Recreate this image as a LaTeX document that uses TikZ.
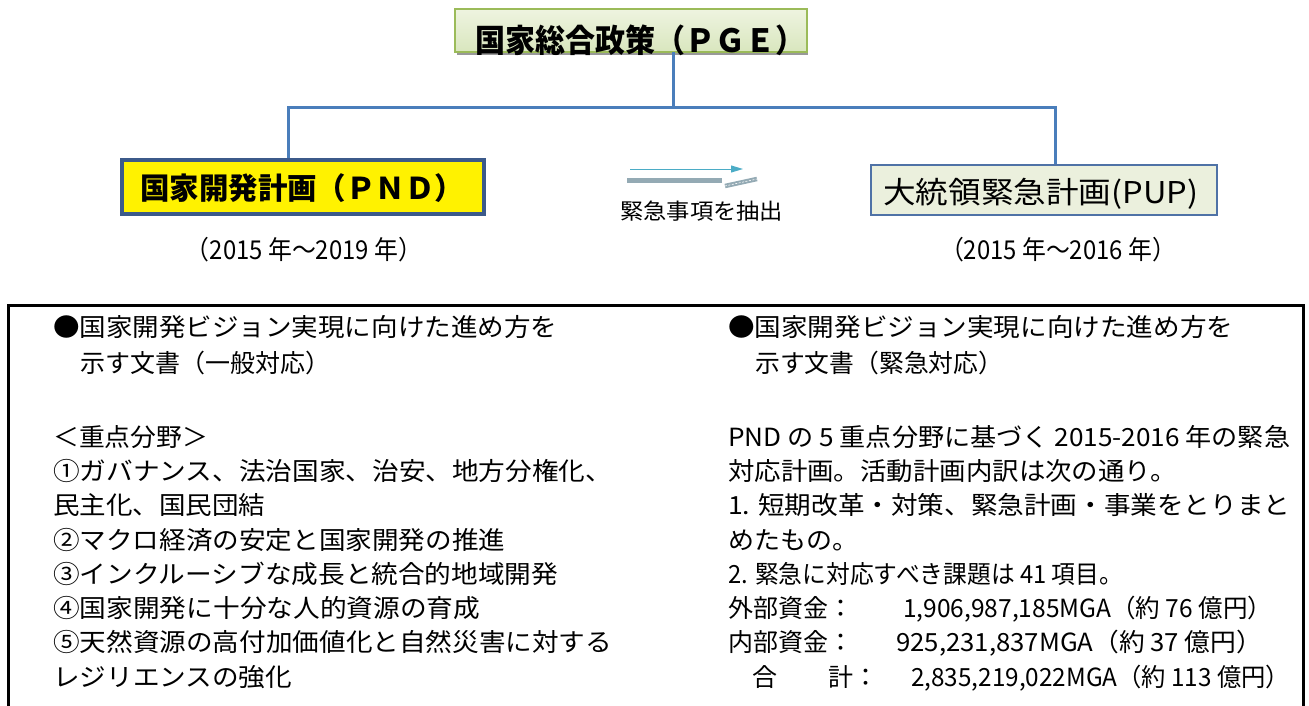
\documentclass[tikz,border=0pt]{standalone}
\usepackage{graphicx}
\usepackage{fontspec}
\setmainfont{Noto Sans CJK JP}
\usetikzlibrary{arrows.meta}
\definecolor{connblue}{HTML}{4A7EBB}
\definecolor{pgeborder}{HTML}{9BBB59}
\definecolor{pgetop}{HTML}{EEF4E0}
\definecolor{pgebot}{HTML}{D9E6BE}
\definecolor{pndborder}{HTML}{3C5A8A}
\definecolor{pupfill}{HTML}{EBF0DD}
\definecolor{pupborder}{HTML}{4F72A6}
\definecolor{arrline}{HTML}{4BACC6}
\definecolor{arrbar}{HTML}{94AAB4}
\newcommand\myfit[2]{\resizebox{#1}{\height}{#2}}
\tikzset{
  connector/.style={draw=connblue, line width=3pt},
  pgebox/.style={draw=pgeborder, line width=1.5pt, top color=pgetop, bottom color=pgebot, minimum width=352pt, minimum height=43pt, inner sep=0pt},
  pndbox/.style={draw=pndborder, line width=4pt, fill=yellow, minimum width=362pt, minimum height=54pt, inner sep=0pt},
  pupbox/.style={draw=pupborder, line width=1.5pt, fill=pupfill, minimum width=346pt, minimum height=50pt, inner sep=0pt},
  txt/.style={anchor=base west, inner sep=0pt, font=\fontsize{25}{30}\selectfont},
  datetxt/.style={anchor=base, inner sep=0pt, font=\fontsize{26}{30}\selectfont},
}
\begin{document}
\begin{tikzpicture}[x=1pt,y=-1pt]
\useasboundingbox (0,0) rectangle (1309,706);
% PGE
\fill[black!40] (457,13) rectangle (808,55);
\node[pgebox] (pge) at (631,30.5) {};
\node[anchor=base west, inner sep=0pt, font=\fontsize{32}{38}\selectfont\bfseries] (pget) at (475,53) {\myfit{330pt}{国家総合政策（ＰＧＥ）}};
% PND
\node[pndbox] (pnd) at (303,187) {};
\node[anchor=base west, inner sep=0pt, font=\fontsize{30}{36}\selectfont\bfseries] (pndt) at (140,199) {\myfit{324pt}{国家開発計画（ＰＮＤ）}};
% PUP
\node[pupbox] (pup) at (1044,190) {};
\node[anchor=base west, inner sep=0pt, font=\fontsize{30}{36}\selectfont] (pupt) at (883,203) {\myfit{315pt}{大統領緊急計画(PUP)}};
% connectors
\coordinate (top) at (673,52);
\coordinate (jc) at (673,108);
\coordinate (jl) at (288,108);
\coordinate (jr) at (1055,108);
\draw[connector] (top) -- (jc);
\draw[connector] (pnd.north -| jl) -- (jl) -- (jr) -- (pup.north -| jr);
% dates
\node[datetxt] (d1) at (304,259) {\myfit{236pt}{（2015 年～2019 年）}};
\node[datetxt] (d2) at (1058,259) {\myfit{236pt}{（2015 年～2016 年）}};
% arrow
\coordinate (a1) at (630,169);
\coordinate (a2) at (743,169);
\draw[arrline, line width=1pt, -{Triangle[length=12pt,width=7pt]}] (a1) -- (a2);
\coordinate (b1) at (627,180);
\coordinate (b2) at (722,180);
\draw[arrbar, line width=5pt] (b1) -- (b2);
\coordinate (c1) at (725,186);
\coordinate (c2) at (757,179);
\draw[arrbar, line width=4.5pt] (c1) -- (c2);
\draw[white, line width=0.6pt, dash pattern=on 2pt off 1.5pt] (c1) -- (c2);
\node[anchor=base west, inner sep=0pt, font=\fontsize{22}{26}\selectfont] (ext) at (620,219) {\myfit{163pt}{緊急事項を抽出}};
% big box
\draw[line width=3pt] (8,716) -- (8,305) -- (1303,305) -- (1303,716);
% left text
\node[txt] (l1) at (53,336.5) {\myfit{504pt}{●国家開発ビジョン実現に向けた進め方を}};
\node[txt] (l2) at (80,372.5) {\myfit{250pt}{示す文書（一般対応）}};
\node[txt] (l3) at (53,446.5) {\myfit{155pt}{＜重点分野＞}};
\node[txt] (l4) at (53,480.5) {\myfit{559pt}{①ガバナンス、法治国家、治安、地方分権化、}};
\node[txt] (l5) at (53,514.5) {\myfit{212pt}{民主化、国民団結}};
\node[txt] (l6) at (53,549.5) {\myfit{452pt}{②マクロ経済の安定と国家開発の推進}};
\node[txt] (l7) at (53,583.5) {\myfit{505pt}{③インクルーシブな成長と統合的地域開発}};
\node[txt] (l8) at (53,617.5) {\myfit{427pt}{④国家開発に十分な人的資源の育成}};
\node[txt] (l9) at (53,651.5) {\myfit{559pt}{⑤天然資源の高付加価値化と自然災害に対する}};
\node[txt] (l10) at (53,686.5) {\myfit{239pt}{レジリエンスの強化}};
% right text
\node[txt] (r1) at (728,336.5) {\myfit{505pt}{●国家開発ビジョン実現に向けた進め方を}};
\node[txt] (r2) at (755,372.5) {\myfit{248pt}{示す文書（緊急対応）}};
\node[txt] (r3) at (728,446.5) {\myfit{562pt}{PND の 5 重点分野に基づく 2015-2016 年の緊急}};
\node[txt] (r4) at (728,480.5) {\myfit{449pt}{対応計画。活動計画内訳は次の通り。}};
\node[txt] (r5) at (728,514.5) {\myfit{562pt}{1. 短期改革・対策、緊急計画・事業をとりまと}};
\node[txt] (r6) at (728,549.5) {\myfit{130pt}{めたもの。}};
\node[txt] (r7) at (728,583.5) {\myfit{395pt}{2. 緊急に対応すべき課題は 41 項目。}};
\node[txt] (r8a) at (728,617.5) {外部資金：};
\node[txt] (r8b) at (903,617.5) {\myfit{369pt}{1,906,987,185MGA（約 76 億円）}};
\node[txt] (r9a) at (728,651.5) {内部資金：};
\node[txt] (r9b) at (896,651.5) {\myfit{366pt}{925,231,837MGA（約 37 億円）}};
\node[txt] (r10a) at (752,686.5) {合};
\node[txt] (r10b) at (828,686.5) {計：};
\node[txt] (r10c) at (911,686.5) {\myfit{379pt}{2,835,219,022MGA（約 113 億円）}};
\end{tikzpicture}
\end{document}
